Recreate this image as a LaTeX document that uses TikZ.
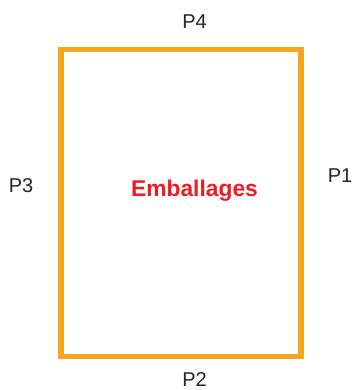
\documentclass[tikz,border=0pt]{standalone}
\usepackage{fontspec}
\setmainfont{Liberation Sans}
\definecolor{carton}{RGB}{247,165,30}
\definecolor{rouge}{RGB}{237,28,36}
\begin{document}
\begin{tikzpicture}[x=1pt, y=1pt, font=\fontsize{20}{24}\selectfont, line join=miter,
    side/.style={anchor=base, text=black!85, inner sep=1pt}]
        \useasboundingbox (0,0) rectangle (353,390);
        % contour du colis
        \draw[carton, line width=5.3pt] (61,33.5) rectangle (301,340.3);
        \node[anchor=base, text=rouge, font=\fontsize{22.8}{26}\selectfont\bfseries] (emb) at (194.5,193) {Emballages};
        % faces
        \node[side] (p4) at (194.5,361) {P4};
        \node[side] (p3) at (21,197.5) {P3};
        \node[side] (p1) at (340,207) {P1};
        \node[side] (p2) at (194.5,3.5) {P2};
\end{tikzpicture}
\end{document}
